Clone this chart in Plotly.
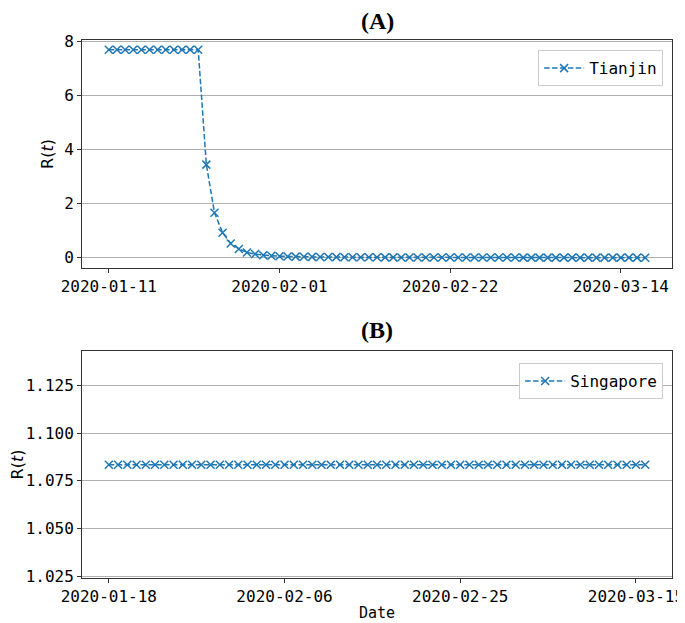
import pandas as pd
import plotly.graph_objects as go

# ---- data ----
tianjin_start = "2020-01-11"
tianjin_end = "2020-03-17"
tianjin_rt = [
    7.7, 7.7, 7.7, 7.7, 7.7, 7.7, 7.7, 7.7, 7.7, 7.7, 7.7, 7.7,
    3.45, 1.67, 0.93, 0.53, 0.33, 0.20, 0.14, 0.10, 0.08, 0.06,
    0.05, 0.045, 0.04, 0.036, 0.033, 0.03, 0.028, 0.026, 0.024, 0.022,
    0.021, 0.02, 0.019, 0.018, 0.017, 0.016, 0.016, 0.015, 0.015, 0.014,
    0.014, 0.013, 0.013, 0.012, 0.012, 0.012, 0.011, 0.011, 0.011, 0.010,
    0.010, 0.010, 0.010, 0.009, 0.009, 0.009, 0.009, 0.009, 0.008, 0.008,
    0.008, 0.008, 0.008, 0.008, 0.007,
]
singapore_start = "2020-01-18"
singapore_end = "2020-03-16"
singapore_rt = [
    1.0834, 1.0834, 1.0834, 1.0834, 1.0834, 1.0834, 1.0834, 1.0834, 1.0834, 1.0834,
    1.0834, 1.0834, 1.0834, 1.0834, 1.0834, 1.0834, 1.0834, 1.0834, 1.0834, 1.0834,
    1.0834, 1.0834, 1.0834, 1.0834, 1.0834, 1.0834, 1.0834, 1.0834, 1.0834, 1.0834,
    1.0834, 1.0834, 1.0834, 1.0834, 1.0834, 1.0834, 1.0834, 1.0834, 1.0834, 1.0834,
    1.0834, 1.0834, 1.0834, 1.0834, 1.0834, 1.0834, 1.0834, 1.0834, 1.0834, 1.0834,
    1.0834, 1.0834, 1.0834, 1.0834, 1.0834, 1.0834, 1.0834, 1.0834, 1.0834,
]
tianjin_ticks = ["2020-01-11", "2020-02-01", "2020-02-22", "2020-03-14"]
singapore_ticks = ["2020-01-18", "2020-02-06", "2020-02-25", "2020-03-15"]
tianjin_yticks = [0, 2, 4, 6, 8]
singapore_yticks = [1.025, 1.050, 1.075, 1.100, 1.125]

tianjin_dates = pd.date_range(tianjin_start, tianjin_end, freq="D")
singapore_dates = pd.date_range(singapore_start, singapore_end, freq="D")

BLUE = "#1f77b4"
MONO = "DejaVu Sans Mono"
TXT = "#000000"

def trace(x, y, name, xa, ya, legend):
    return go.Scatter(
        x=x, y=y, name=name, xaxis=xa, yaxis=ya, legend=legend,
        mode="lines+markers",
        line=dict(color=BLUE, width=1.5, dash="5.5px,2.4px"),
        marker=dict(symbol="x-thin", size=8, color=BLUE,
                    line=dict(color=BLUE, width=1.5)),
    )

fig = go.Figure()
fig.add_trace(trace(tianjin_dates, tianjin_rt, "Tianjin", "x", "y", "legend"))
fig.add_trace(trace(singapore_dates, singapore_rt, "Singapore", "x2", "y2", "legend2"))

axis_common = dict(
    showline=True, mirror=True, linecolor="#333333", linewidth=1,
    ticks="outside", ticklen=4, tickcolor="#333333", tickwidth=1,
    tickfont=dict(family=MONO, size=16, color=TXT),
    zeroline=False, automargin=False, ticklabeloverflow="allow",
)

# page body has an 8px default margin, so the figure is 8px smaller
fig.update_layout(
    width=677, height=615,
    margin=dict(l=74, r=13, t=32, b=45),
    plot_bgcolor="white", paper_bgcolor="white",
    showlegend=True,
    xaxis=dict(domain=[0, 1], anchor="y", type="date",
               range=["2020-01-07 16:48", "2020-03-20 07:12"],
               tickvals=tianjin_ticks, tickformat="%Y-%m-%d",
               showgrid=False, **axis_common),
    yaxis=dict(domain=[0.5762, 1], anchor="x",
               range=[-0.375, 8.06], tickvals=tianjin_yticks,
               showgrid=True, gridcolor="#b0b0b0", gridwidth=0.8,
               title=dict(text="R(<i>t</i>)", font=dict(family="DejaVu Sans", size=16, color=TXT), standoff=6),
               **axis_common),
    xaxis2=dict(domain=[0, 1], anchor="y2", type="date",
                range=["2020-01-15 02:24", "2020-03-18 21:36"],
                tickvals=singapore_ticks, tickformat="%Y-%m-%d",
                showgrid=False,
                title=dict(text="Date", font=dict(family=MONO, size=15, color=TXT), standoff=2),
                **axis_common),
    yaxis2=dict(domain=[0, 0.4219], anchor="x2",
                range=[1.024, 1.143], tickvals=singapore_yticks, tickformat=".3f",
                showgrid=True, gridcolor="#b0b0b0", gridwidth=0.8,
                title=dict(text="R(<i>t</i>)", font=dict(family="DejaVu Sans", size=16, color=TXT), standoff=6),
                **axis_common),
    legend=dict(x=0.985, y=0.981, xanchor="right", yanchor="top",
                bgcolor="white", bordercolor="#cccccc", borderwidth=1,
                itemwidth=40,
                font=dict(family=MONO, size=16, color=TXT)),
    legend2=dict(x=0.985, y=0.3996, xanchor="right", yanchor="top",
                 bgcolor="white", bordercolor="#cccccc", borderwidth=1,
                 itemwidth=40,
                 font=dict(family=MONO, size=16, color=TXT)),
    annotations=[
        dict(text="<b>(A)</b>", x=0.5, y=1.036, xref="paper", yref="paper",
             xanchor="center", yanchor="middle", showarrow=False,
             font=dict(family="Liberation Serif", size=24, color="black")),
        dict(text="<b>(B)</b>", x=0.5, y=0.461, xref="paper", yref="paper",
             xanchor="center", yanchor="middle", showarrow=False,
             font=dict(family="Liberation Serif", size=24, color="black")),
    ],
)

fig.write_html("out.html")
